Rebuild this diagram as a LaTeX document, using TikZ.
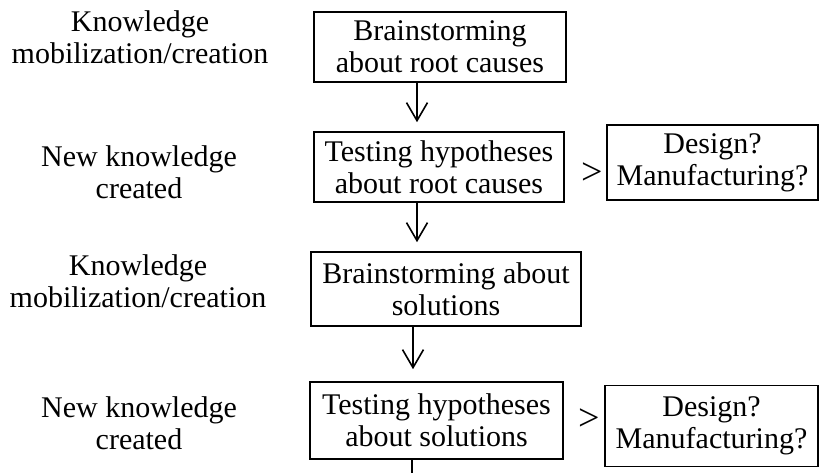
\documentclass[tikz,border=0pt]{standalone}
\usepackage{fontspec}
\setmainfont{Liberation Serif}
\usetikzlibrary{arrows.meta}
\begin{document}
\begin{tikzpicture}[x=1pt,y=-1pt,
  stepbox/.style={draw, line width=1.6pt, align=center, inner sep=0pt,
    font=\fontsize{30}{32}\selectfont},
  lbl/.style={align=center, inner sep=0pt, font=\fontsize{30}{32}\selectfont},
  gt/.style={inner sep=0pt, font=\fontsize{38}{40}\selectfont},
  arr/.style={line width=1.6pt, -{Straight Barb[length=18pt,width=21pt,line width=1.6pt]}},
  plain/.style={line width=1.6pt}]
\useasboundingbox (0,0) rectangle (830,473);
% left labels
\node[lbl] (l1) at (140,37) {Knowledge\\mobilization/creation};
\node[lbl] (l2) at (139,172) {New knowledge\\created};
\node[lbl] (l3) at (138,281) {Knowledge\\mobilization/creation};
\node[lbl] (l4) at (139,423) {New knowledge\\created};
% main boxes
\node[stepbox, minimum width=252pt, minimum height=70pt] (b1) at (440,47) {Brainstorming\\about root causes};
\node[stepbox, minimum width=250pt, minimum height=70pt] (b2) at (439,167) {Testing hypotheses\\about root causes};
\node[stepbox, minimum width=270pt, minimum height=74pt] (b3) at (446,289) {Brainstorming about\\solutions};
\node[stepbox, minimum width=253pt, minimum height=77pt] (b4) at (436.5,420.5) {Testing hypotheses\\about solutions};
% side boxes
\node[stepbox, minimum width=211pt, minimum height=75pt] (d1) at (712.5,162.5) {Design?\\Manufacturing?};
\node[stepbox, minimum width=213pt, minimum height=81pt] (d2) at (711.5,426) {Design?\\Manufacturing?};
% > signs
\node[gt] (g1) at (592,174) {>};
\node[gt] (g2) at (589,420) {>};
% arrows
\coordinate (xa) at (417,0);
\coordinate (xb) at (413,0);
\coordinate (bend) at (412,473);
\draw[arr, shorten >=9pt] (b1.south -| xa) -- (b2.north -| xa);
\draw[arr, shorten >=9pt] (b2.south -| xa) -- (b3.north -| xa);
\draw[arr, shorten >=12pt] (b3.south -| xb) -- (b4.north -| xb);
\draw[plain] (b4.south -| bend) -- (bend);
\end{tikzpicture}
\end{document}
